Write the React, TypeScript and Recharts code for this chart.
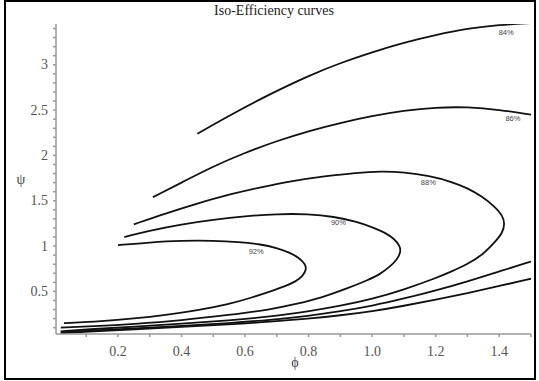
import { ComposedChart, Line, Scatter, XAxis, YAxis } from "recharts";

// iso-efficiency contours, [phi, psi]
const curve92: [number, number][] = [
  [0.2, 1.01], [0.3, 1.04], [0.4, 1.06], [0.5, 1.06], [0.58, 1.045], [0.65, 1.02],
  [0.7, 0.98], [0.74, 0.93], [0.77, 0.87], [0.79, 0.8], [0.793, 0.74], [0.782, 0.67],
  [0.76, 0.61], [0.725, 0.555], [0.68, 0.5], [0.62, 0.43], [0.55, 0.36], [0.45, 0.29],
  [0.35, 0.24], [0.25, 0.2], [0.15, 0.17], [0.03, 0.15],
];

const curve90: [number, number][] = [
  [0.22, 1.1], [0.3, 1.17], [0.4, 1.24], [0.5, 1.29], [0.6, 1.33], [0.7, 1.355],
  [0.8, 1.355], [0.88, 1.325], [0.95, 1.27], [1.0, 1.21], [1.04, 1.15], [1.07, 1.08],
  [1.088, 1.0], [1.09, 0.93], [1.078, 0.85], [1.055, 0.77], [1.025, 0.69], [0.99, 0.63],
  [0.92, 0.53], [0.84, 0.43], [0.76, 0.36], [0.68, 0.3], [0.55, 0.24], [0.4, 0.18],
  [0.25, 0.14], [0.12, 0.115], [0.02, 0.1],
];

const curve88: [number, number][] = [
  [0.25, 1.24], [0.35, 1.36], [0.45, 1.47], [0.55, 1.57], [0.65, 1.65], [0.75, 1.72],
  [0.85, 1.77], [0.95, 1.81], [1.03, 1.825], [1.1, 1.815], [1.18, 1.775], [1.25, 1.71],
  [1.3, 1.64], [1.345, 1.55], [1.385, 1.44], [1.41, 1.34], [1.418, 1.25], [1.41, 1.14],
  [1.385, 1.04], [1.35, 0.91], [1.3, 0.8], [1.25, 0.72], [1.2, 0.645], [1.1, 0.52],
  [1.0, 0.415], [0.9, 0.34], [0.8, 0.28], [0.68, 0.22], [0.55, 0.18], [0.4, 0.145],
  [0.25, 0.11], [0.12, 0.085], [0.02, 0.06],
];

const curve86Upper: [number, number][] = [
  [0.31, 1.54], [0.4, 1.7], [0.5, 1.88], [0.6, 2.03], [0.7, 2.16], [0.8, 2.27],
  [0.9, 2.36], [1.0, 2.435], [1.1, 2.495], [1.2, 2.53], [1.3, 2.535], [1.4, 2.505], [1.5, 2.45],
];
const curve86Lower: [number, number][] = [
  [1.5, 0.83], [1.4, 0.72], [1.3, 0.61], [1.2, 0.51], [1.1, 0.42], [1.0, 0.34],
  [0.9, 0.28], [0.8, 0.23], [0.68, 0.185], [0.55, 0.15], [0.4, 0.12], [0.25, 0.09],
  [0.12, 0.07], [0.02, 0.05],
];

const curve84Upper: [number, number][] = [
  [0.45, 2.24], [0.55, 2.44], [0.68, 2.68], [0.8, 2.88], [0.9, 3.02], [1.0, 3.14],
  [1.1, 3.245], [1.2, 3.33], [1.3, 3.4], [1.4, 3.44], [1.5, 3.46],
];
const curve84Lower: [number, number][] = [
  [1.5, 0.64], [1.4, 0.56], [1.3, 0.48], [1.2, 0.41], [1.1, 0.34], [1.0, 0.28],
  [0.9, 0.235], [0.8, 0.2], [0.68, 0.165], [0.55, 0.135], [0.4, 0.11], [0.25, 0.08],
  [0.12, 0.06], [0.02, 0.04],
];

const levelNames = ["84%", "86%", "88%", "90%", "92%"];
const levelLabelAt: [number, number][] = [
  [1.422, 3.36], [1.443, 2.41], [1.177, 1.7], [0.894, 1.26], [0.635, 0.945],
];

const xTicks = [0.1, 0.2, 0.3, 0.4, 0.5, 0.6, 0.7, 0.8, 0.9, 1.0, 1.1, 1.2, 1.3, 1.4, 1.5];
const xLabelled = [0.2, 0.4, 0.6, 0.8, 1.0, 1.2, 1.4];
const yTicks = [
  0.1, 0.2, 0.3, 0.4, 0.5, 0.6, 0.7, 0.8, 0.9, 1.0, 1.1, 1.2, 1.3, 1.4, 1.5, 1.6, 1.7,
  1.8, 1.9, 2.0, 2.1, 2.2, 2.3, 2.4, 2.5, 2.6, 2.7, 2.8, 2.9, 3.0, 3.1, 3.2, 3.3, 3.4,
];
const yLabelled = [0.5, 1.0, 1.5, 2.0, 2.5, 3.0];

const curves = [curve92, curve90, curve88, curve86Upper, curve86Lower, curve84Upper, curve84Lower];

const toRows = (pts: [number, number][]) => pts.map(([x, y]) => ({ x, y }));

const serif = "'Liberation Serif', 'Times New Roman', serif";

const XTick = (props: any) => {
  const { x, y, payload } = props;
  if (!xLabelled.includes(payload.value)) return <g />;
  return (
    <text x={x} y={y + 17} textAnchor="middle" fontFamily={serif} fontSize={14} fill="#555">
      {payload.value.toFixed(1)}
    </text>
  );
};

const YTick = (props: any) => {
  const { y, payload } = props;
  if (!yLabelled.includes(payload.value)) return <g />;
  return (
    <text x={48} y={y + 4.5} textAnchor="end" fontFamily={serif} fontSize={14} fill="#555">
      {String(payload.value)}
    </text>
  );
};

const LevelText = (props: any) => (
  <text
    x={props.cx}
    y={props.cy}
    textAnchor="middle"
    dominantBaseline="central"
    fontFamily="'Liberation Sans', Arial, sans-serif"
    fontSize={7.5}
    fill="#444"
  >
    {props.payload.text}
  </text>
);

export default function App() {
  const labelRows = levelLabelAt.map(([x, y], i) => ({ x, y, text: levelNames[i] }));

  return (
    <div style={{ position: "absolute", left: 0, top: 0, width: 539, height: 381, background: "#fff" }}>
      <ComposedChart width={539} height={381} margin={{ top: 24, right: 8, bottom: 17, left: 0 }}>
        <XAxis
          dataKey="x"
          type="number"
          domain={[0.005, 1.5]}
          ticks={xTicks}
          interval={0}
          tick={<XTick />}
          tickSize={3}
          height={30}
          stroke="#999"
          strokeWidth={1.5}
          allowDataOverflow
        />
        <YAxis
          dataKey="y"
          type="number"
          domain={[0.03, 3.45]}
          ticks={yTicks}
          interval={0}
          tick={<YTick />}
          tickSize={3}
          width={56}
          stroke="#999"
          strokeWidth={1.5}
          allowDataOverflow
        />
        {curves.map((c, i) => (
          <Line
            key={i}
            data={toRows(c)}
            dataKey="y"
            type="basis"
            stroke="#111"
            strokeWidth={1.8}
            dot={false}
            isAnimationActive={false}
          />
        ))}
        <Scatter data={labelRows} dataKey="y" shape={<LevelText />} isAnimationActive={false} />
      </ComposedChart>

      <div style={{ position: "absolute", left: 174, top: 3, width: 200, textAlign: "center", fontFamily: serif, fontSize: 14, color: "#222" }}>
        Iso-Efficiency curves
      </div>
      <div style={{ position: "absolute", left: 11, top: 172, width: 20, textAlign: "center", fontFamily: serif, fontSize: 14, color: "#444" }}>
        ψ
      </div>
      <div style={{ position: "absolute", left: 285, top: 355, width: 20, textAlign: "center", fontFamily: serif, fontSize: 14, color: "#444" }}>
        ϕ
      </div>
      <div style={{ position: "absolute", left: 4, top: 0, width: 532, height: 380, border: "2px solid #000", boxSizing: "border-box", pointerEvents: "none" }} />
    </div>
  );
}
